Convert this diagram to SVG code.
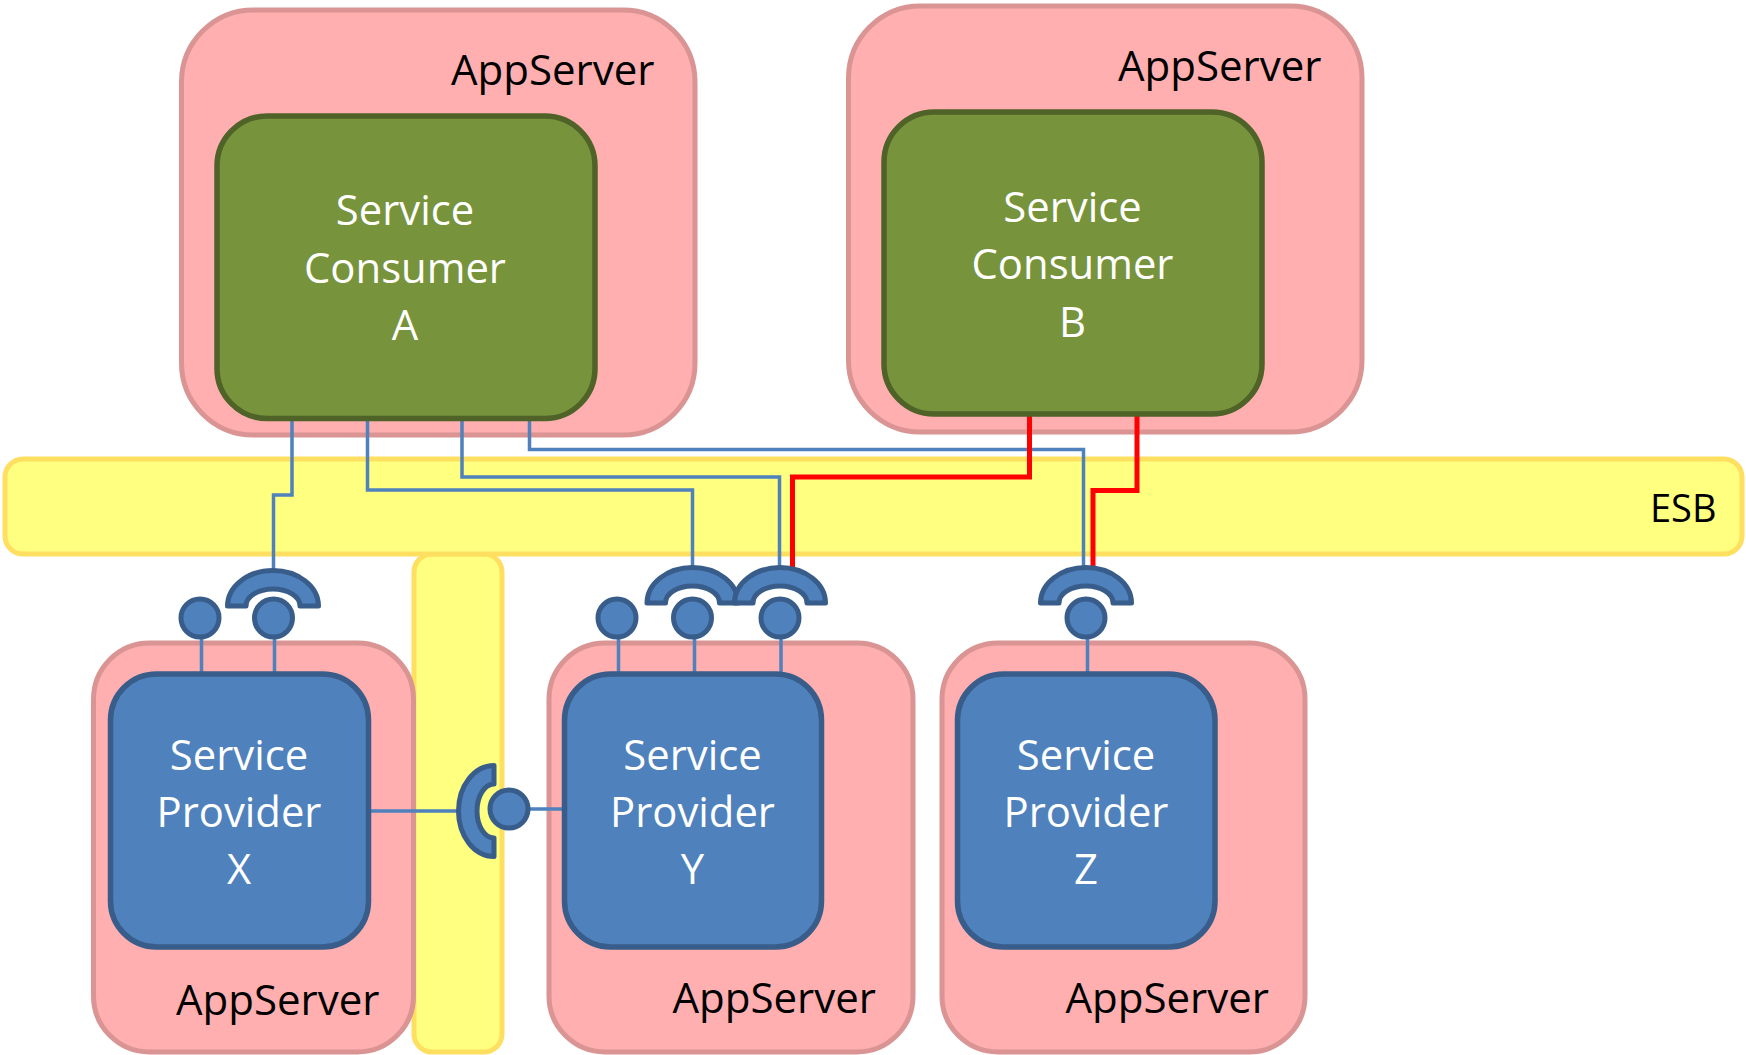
<svg xmlns="http://www.w3.org/2000/svg" xmlns:xlink="http://www.w3.org/1999/xlink" width="1746" height="1055" viewBox="0 0 1746 1055">
<style>
.app{fill:#FFAFAF;stroke:#DA9494;stroke-width:5}
.esb{fill:#FFFF80;stroke:#FFDF60;stroke-width:5}
.con{fill:#77933C;stroke:#4F6228;stroke-width:5.500}
.pro{fill:#4F81BD;stroke:#385D8A;stroke-width:5.500}
.ifc{fill:#4F81BD;stroke:#385D8A;stroke-width:5;stroke-linejoin:round}
.bl{fill:none;stroke:#4F81BD;stroke-width:3.500}
.rd{fill:none;stroke:#FF0000;stroke-width:5}
text{font-family:"Open Sans","Liberation Sans",sans-serif;font-size:41.800px}
.w{fill:#fff;text-anchor:middle}
.k{fill:#000;font-size:42px}
.k.s{font-size:38px}
</style>
<defs>
<path id="arcT" d="M-45.500 0A45.500 35.500 0 0 1 45.500 0H27A27 17 0 0 0 -27 0Z"/>
</defs>
<g id="esb-branch"><rect class="esb" x="414" y="554" width="88" height="498" rx="18"/></g>
<g id="esb"><rect class="esb" x="5" y="459" width="1737" height="95" rx="18"/><text class="k s" x="1650" y="522">ESB</text></g>
<g id="appserver-a"><rect class="app" x="181.500" y="10" width="513.500" height="425" rx="72"/><text class="k" x="451" y="84.500">AppServer</text></g>
<g id="appserver-b"><rect class="app" x="848.500" y="6" width="513.500" height="426" rx="72"/><text class="k" x="1118" y="80.500">AppServer</text></g>
<g id="appserver-x"><rect class="app" x="93.500" y="643" width="320" height="409" rx="56"/><text class="k" x="176" y="1014.500">AppServer</text></g>
<g id="appserver-y"><rect class="app" x="549" y="643" width="364" height="409" rx="56"/><text class="k" x="672.500" y="1012.500">AppServer</text></g>
<g id="appserver-z"><rect class="app" x="942" y="643" width="363" height="409" rx="56"/><text class="k" x="1065.500" y="1012.500">AppServer</text></g>
<g id="connectors">
<path class="bl" d="M292 418V495H273.500V572"/>
<path class="bl" d="M367.500 418V490H692.500V569"/>
<path class="bl" d="M462 418V477H779.500V569"/>
<path class="bl" d="M529.500 418V449.500H1083.500V569"/>
<path class="rd" d="M1029.500 414V477H792.500V570"/>
<path class="rd" d="M1137 414V490.500H1093V570"/>
<path class="bl" d="M201.500 636V675M274.500 636V675M618.500 636V675M694.500 636V675M781 636V675M1087.500 636V675"/>
<path class="bl" d="M368 811H465M526 809H566"/>
</g>
<g id="consumer-a"><rect class="con" x="217" y="116" width="378" height="302.500" rx="50"/><text class="w" x="405" y="225">Service</text><text class="w" x="405" y="282.500">Consumer</text><text class="w" x="405" y="340">A</text></g>
<g id="consumer-b"><rect class="con" x="884" y="112" width="378" height="302" rx="50"/><text class="w" x="1072.500" y="221.500">Service</text><text class="w" x="1072.500" y="279">Consumer</text><text class="w" x="1072.500" y="336.500">B</text></g>
<g id="provider-x"><rect class="pro" x="110.500" y="674" width="258" height="273" rx="46"/><text class="w" x="239" y="769.500">Service</text><text class="w" x="239" y="827">Provider</text><text class="w" x="239" y="884">X</text></g>
<g id="provider-y"><rect class="pro" x="564.500" y="674" width="257" height="273" rx="46"/><text class="w" x="692.500" y="769.500">Service</text><text class="w" x="692.500" y="827">Provider</text><text class="w" x="692.500" y="884">Y</text></g>
<g id="provider-z"><rect class="pro" x="957.500" y="674" width="257.500" height="273" rx="46"/><text class="w" x="1086" y="769.500">Service</text><text class="w" x="1086" y="827">Provider</text><text class="w" x="1086" y="884">Z</text></g>
<g id="interface-x1"><circle class="ifc" cx="200" cy="618" r="19"/></g>
<g id="interface-x2"><use xlink:href="#arcT" href="#arcT" class="ifc" transform="translate(273 606)"/><circle class="ifc" cx="273.500" cy="618" r="19"/></g>
<g id="interface-y1"><circle class="ifc" cx="617" cy="618" r="19"/></g>
<g id="interface-y2"><use xlink:href="#arcT" href="#arcT" class="ifc" transform="translate(692.500 603)"/><circle class="ifc" cx="692.500" cy="618" r="19"/></g>
<g id="interface-y3"><use xlink:href="#arcT" href="#arcT" class="ifc" transform="translate(780 603)"/><circle class="ifc" cx="780" cy="618" r="19"/></g>
<g id="interface-z"><use xlink:href="#arcT" href="#arcT" class="ifc" transform="translate(1086 603)"/><circle class="ifc" cx="1086" cy="618" r="19"/></g>
<g id="interface-xy"><use xlink:href="#arcT" href="#arcT" class="ifc" transform="translate(494 811) rotate(-90)"/><circle class="ifc" cx="509" cy="809" r="19"/></g>
</svg>
